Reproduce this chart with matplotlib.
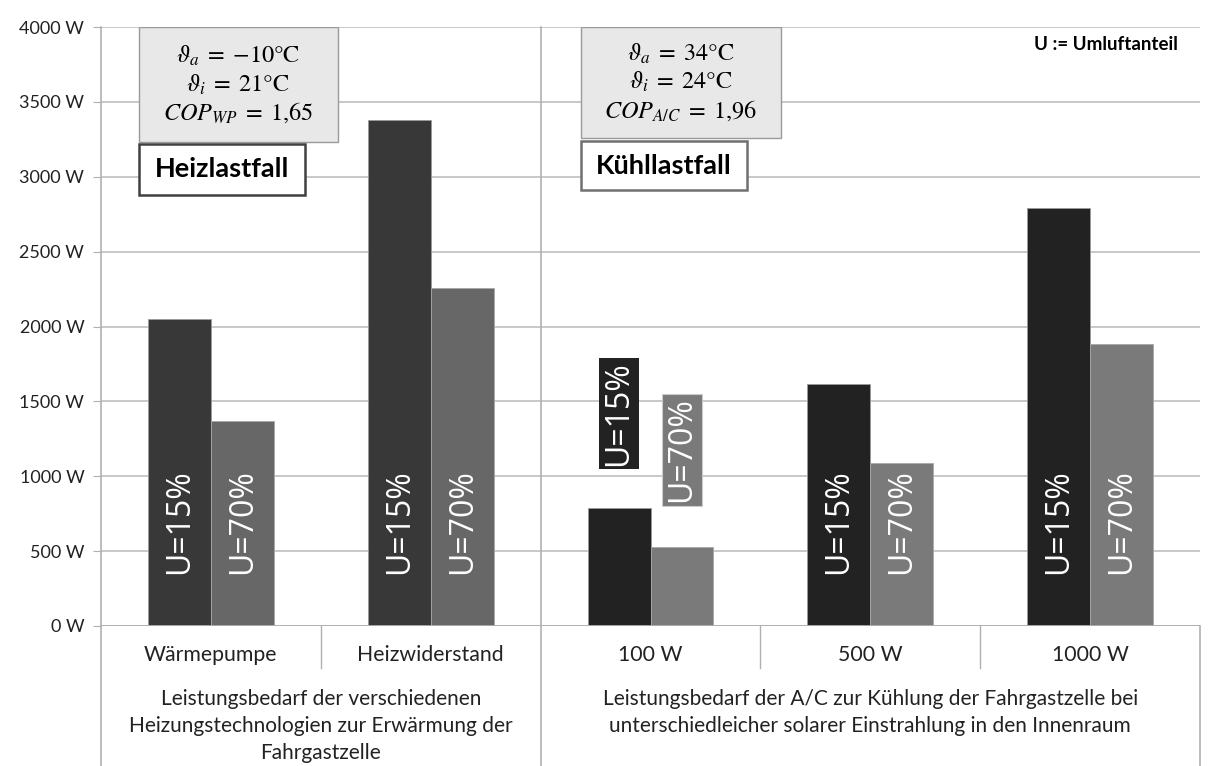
import matplotlib.pyplot as plt
import matplotlib.transforms as mtransforms
from matplotlib.patches import Rectangle
import numpy as np

plt.rcParams['font.family'] = ['Lato', 'DejaVu Sans']
plt.rcParams['mathtext.fontset'] = 'stix'

categories = ["Wärmepumpe", "Heizwiderstand", "100 W", "500 W", "1000 W"]
u15 = [2050, 3380, 790, 1615, 2790]   # U = 15 %
u70 = [1370, 2260, 530, 1090, 1880]   # U = 70 %
series_labels = ["U=15%", "U=70%"]
yticks = [0, 500, 1000, 1500, 2000, 2500, 3000, 3500, 4000]
group_titles = [
    "Leistungsbedarf der verschiedenen\nHeizungstechnologien zur Erwärmung der\nFahrgastzelle",
    "Leistungsbedarf der A/C zur Kühlung der Fahrgastzelle bei\nunterschiedleicher solarer Einstrahlung in den Innenraum",
]
heat_params = (r"$\vartheta_a\;=\;{-}10°\mathrm{C}$" + "\n" + r"$\vartheta_i\;=\;21°\mathrm{C}$"
               + "\n" + r"$COP_{WP}\;=\;1{,}65$")
cool_params = (r"$\vartheta_a\;=\;34°\mathrm{C}$" + "\n" + r"$\vartheta_i\;=\;24°\mathrm{C}$"
               + "\n" + r"$COP_{A/C}\;=\;1{,}96$")

# heating group uses slightly different greys than the cooling group
dark = ["#383838", "#383838", "#222222", "#222222", "#222222"]
light = ["#676767", "#676767", "#7a7a7a", "#7a7a7a", "#7a7a7a"]

fig = plt.figure(figsize=(12.09, 7.66), dpi=100)
ax = fig.add_axes([101 / 1209, 140 / 766, 1099 / 1209, 599 / 766])

x = np.arange(len(categories)) + 0.5
w = 0.286
ax.bar(x - w / 2, u15, w, color=dark, edgecolor="#9a9a9a", linewidth=0.6, zorder=3)
ax.bar(x + w / 2, u70, w, color=light, edgecolor="#a8a8a8", linewidth=0.6, zorder=3)

ax.set_xlim(0, 5)
ax.set_ylim(0, 4000)
ax.set_yticks(yticks)
ax.set_yticklabels([f"{v} W" for v in yticks], fontsize=13, color="#222222")
ax.tick_params(axis="y", length=6, color="#b0b0b0", pad=6)
ax.set_xticks([])
ax.grid(axis="y", color="#c4c4c4", linewidth=1.3, zorder=0)
for s in ["top", "right", "bottom"]:
    ax.spines[s].set_visible(False)
ax.spines["left"].set_color("#b0b0b0")
ax.spines["left"].set_linewidth(1.2)
ax.axhline(0, color="#b0b0b0", linewidth=1.3, zorder=4)

# value labels inside the bars (100 W case sits above the bars)
label_font = dict(family=["Open Sans", "DejaVu Sans"], fontsize=23, color="white",
                  rotation=90, ha="center", va="center", zorder=5)
for i in range(len(categories)):
    if categories[i] == "100 W":
        ax.text(x[i] - w / 2, 1420, series_labels[0],
                bbox=dict(boxstyle="square,pad=0.1", fc=dark[i], ec="none"), **label_font)
        ax.text(x[i] + w / 2, 1175, series_labels[1],
                bbox=dict(boxstyle="square,pad=0.1", fc=light[i], ec="#cccccc", lw=0.8), **label_font)
    else:
        ax.text(x[i] - w / 2, 700, series_labels[0], **label_font)
        ax.text(x[i] + w / 2, 700, series_labels[1], **label_font)

# category table under the axis
trans = mtransforms.blended_transform_factory(ax.transData, ax.transAxes)
lc = "#b0b0b0"
ax.plot([2, 2], [1, -0.234], transform=trans, color=lc, lw=1.2, clip_on=False, zorder=4)
ax.plot([0, 0], [0, -0.234], transform=trans, color=lc, lw=1.2, clip_on=False)
ax.plot([5, 5], [0, -0.234], transform=trans, color=lc, lw=1.2, clip_on=False)
for xs in [1, 3, 4]:
    ax.plot([xs, xs], [0, -0.07], transform=trans, color=lc, lw=1.0, clip_on=False)
for xi, name in zip(x, categories):
    ax.text(xi, -0.048, name, transform=trans, ha="center", va="center", fontsize=15.3, color="#222222")
for gx, title in zip([1.0, 3.5], group_titles):
    ax.text(gx, -0.106, title, transform=trans, ha="center", va="top",
            fontsize=15, color="#222222", linespacing=1.42, multialignment="center")

# parameter boxes
ax.add_patch(Rectangle((0.173, 3230), 0.905, 770, fc="#e8e8e8", ec="#9a9a9a", lw=1.0, zorder=5))
ax.text(0.625, 3615, heat_params, ha="center", va="center", fontsize=17.5, linespacing=1.2, zorder=6)
ax.add_patch(Rectangle((0.173, 2880), 0.755, 340, fc="white", ec="#404040", lw=1.8, zorder=5))
ax.text(0.55, 3050, "Heizlastfall", ha="center", va="center", fontsize=19.5, fontweight="bold", zorder=6)

ax.add_patch(Rectangle((2.182, 3260), 0.91, 740, fc="#e8e8e8", ec="#9a9a9a", lw=1.0, zorder=5))
ax.text(2.637, 3630, cool_params, ha="center", va="center", fontsize=17.5, linespacing=1.2, zorder=6)
ax.add_patch(Rectangle((2.182, 2910), 0.755, 330, fc="white", ec="#707070", lw=1.8, zorder=5))
ax.text(2.56, 3075, "Kühllastfall", ha="center", va="center", fontsize=19.5, fontweight="bold", zorder=6)

ax.text(4.9, 3880, "U := Umluftanteil", ha="right", va="center", fontsize=13.5, fontweight="bold")

fig.savefig("out.png", dpi=100, facecolor="white")
